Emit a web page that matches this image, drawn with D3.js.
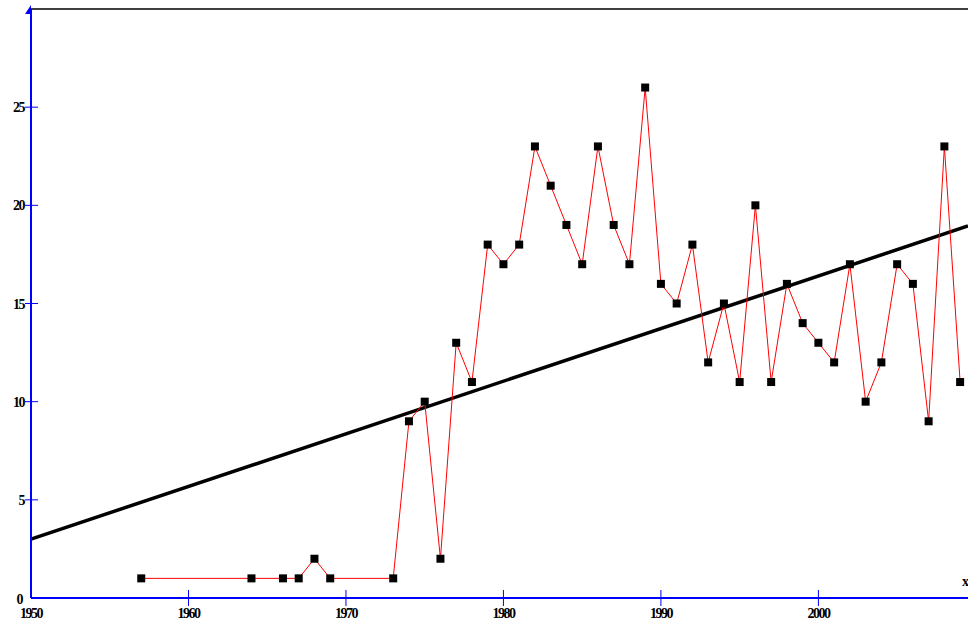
<!DOCTYPE html>
<html><head><meta charset="utf-8">
<script src="https://cdn.jsdelivr.net/npm/d3@7"></script>
<style>body{margin:0;background:#fff;} svg{display:block;} text{font-family:"Liberation Serif","DejaVu Serif",serif;font-size:14px;font-weight:bold;fill:#000;}</style>
</head><body>
<svg id="c" width="968" height="624"></svg>
<script>
const years = [1957,1964,1966,1967,1968,1969,1973,1974,1975,1976,1977,1978,1979,1980,1981,1982,1983,1984,1985,1986,1987,1988,1989,1990,1991,1992,1993,1994,1995,1996,1997,1998,1999,2000,2001,2002,2003,2004,2005,2006,2007,2008,2009];
const counts = [1,1,1,1,2,1,1,9,10,2,13,11,18,17,18,23,21,19,17,23,19,17,26,16,15,18,12,15,11,20,11,16,14,13,12,17,10,12,17,16,9,23,11];
const trendYears = [1950, 2009.5];
const trendValues = [3.0, 18.95];
const xTicks = [1950,1960,1970,1980,1990,2000];
const yTicks = [5,10,15,20,25];

const svg = d3.select("#c");
const x = d3.scaleLinear().domain([1950, 2009.5]).range([31, 968]);
const y = d3.scaleLinear().domain([0, 30]).range([598, 9]);

svg.append("line").attr("x1",31).attr("x2",968).attr("y1",9).attr("y2",9).attr("stroke","#000").attr("stroke-width",1.5);

svg.append("path").datum(trendYears.map((t,i)=>[t,trendValues[i]]))
  .attr("d", d3.line().x(d=>x(d[0])).y(d=>y(d[1])))
  .attr("stroke","#000").attr("stroke-width",3.5).attr("fill","none");

const pts = years.map((t,i)=>[t,counts[i]]);
svg.append("path").datum(pts)
  .attr("d", d3.line().x(d=>x(d[0])).y(d=>y(d[1])))
  .attr("stroke","#ff0000").attr("stroke-width",1).attr("fill","none");
svg.selectAll("rect.m").data(pts).enter().append("rect").attr("class","m")
  .attr("x",d=>x(d[0])-4).attr("y",d=>y(d[1])-4).attr("width",8).attr("height",8).attr("fill","#000");

svg.append("line").attr("x1",31).attr("x2",31).attr("y1",9).attr("y2",598).attr("stroke","#0000ff").attr("stroke-width",2);
svg.append("line").attr("x1",31).attr("x2",968).attr("y1",598).attr("y2",598).attr("stroke","#0000ff").attr("stroke-width",2);
svg.append("path").attr("d","M31,5 L25,14 L31,14 Z").attr("fill","#0000ff");

svg.selectAll("line.yt").data(yTicks).enter().append("line").attr("class","yt")
  .attr("x1",25).attr("x2",38).attr("y1",d=>y(d)).attr("y2",d=>y(d)).attr("stroke","#0000ff").attr("stroke-width",1);
svg.selectAll("text.yl").data(yTicks).enter().append("text").attr("class","yl")
  .attr("x",24).attr("y",d=>y(d)+5).attr("text-anchor","end").attr("letter-spacing","-1.5").text(d=>d);
svg.append("text").attr("x",20).attr("y",604).attr("text-anchor","middle").text("0");

svg.selectAll("line.xt").data(xTicks.slice(1)).enter().append("line").attr("class","xt")
  .attr("x1",d=>x(d)).attr("x2",d=>x(d)).attr("y1",590).attr("y2",606).attr("stroke","#0000ff").attr("stroke-width",1);
svg.selectAll("text.xl").data(xTicks).enter().append("text").attr("class","xl")
  .attr("x",d=>x(d)).attr("y",618).attr("text-anchor","middle").attr("letter-spacing","-1.5").text(d=>d);
svg.append("text").attr("x",962).attr("y",586).text("x");
</script>
</body></html>
